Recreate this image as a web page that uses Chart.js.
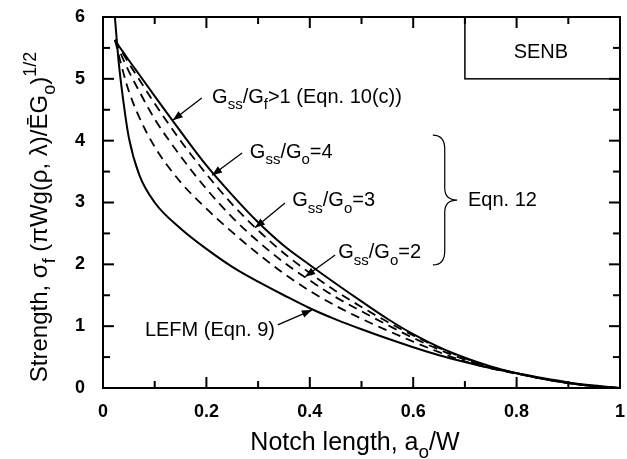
<!DOCTYPE html>
<html><head><meta charset="utf-8">
<script src="https://cdn.jsdelivr.net/npm/chart.js@4"></script>
<style>html,body{margin:0;padding:0;background:#fff}#wrap{width:627px;height:459px}</style>
</head><body><div id="wrap"><canvas id="c"></canvas></div>
<script>
// ---- data ----
const notchLength = [0.023,0.03,0.04,0.05,0.07,0.1,0.15,0.2,0.25,0.3,0.35,0.4,0.45,0.5,0.55,0.6,0.65,0.7,0.75,0.8,0.85,0.9,0.95,1.0];
const strengthGfGt1 = [5.63,5.54,5.42,5.30,5.07,4.72,4.15,3.60,3.12,2.68,2.30,1.99,1.69,1.40,1.12,0.87,0.66,0.49,0.35,0.24,0.15,0.08,0.03,0];
const strengthGo4   = [5.63,5.53,5.39,5.25,4.99,4.60,4.00,3.46,2.97,2.55,2.18,1.86,1.57,1.31,1.07,0.85,0.65,0.48,0.34,0.24,0.15,0.08,0.03,0];
const strengthGo3   = [5.63,5.49,5.30,5.12,4.80,4.35,3.75,3.22,2.76,2.37,2.03,1.74,1.47,1.24,1.02,0.81,0.62,0.46,0.33,0.24,0.15,0.08,0.03,0];
const strengthGo2   = [5.63,5.40,5.08,4.80,4.38,3.90,3.33,2.90,2.52,2.17,1.85,1.57,1.33,1.12,0.93,0.75,0.58,0.43,0.32,0.23,0.15,0.08,0.03,0];
const strengthLEFM  = [6.00,5.30,4.60,4.05,3.45,3.00,2.58,2.25,1.96,1.72,1.50,1.29,1.11,0.95,0.80,0.66,0.53,0.42,0.32,0.24,0.16,0.09,0.04,0];
const xTicks = [0,0.2,0.4,0.6,0.8,1];
const yTicks = [0,1,2,3,4,5,6];
const xMinorTicks = [0,0.1,0.2,0.3,0.4,0.5,0.6,0.7,0.8,0.9,1];
const yMinorTicks = [0,0.5,1,1.5,2,2.5,3,3.5,4,4.5,5,5.5,6];

const pts = ys => notchLength.map((x,i)=>({x, y: ys[i]}));
const FONT = '"Liberation Sans", Arial, sans-serif';
const SUBR = 0.74;

function rich(ctx, parts, x, y, size) {
  let cx = x;
  for (const [t, m] of parts) {
    const s = m === 'n' ? size : Math.round(size*SUBR);
    ctx.font = s + 'px ' + FONT;
    const dy = m === 'sub' ? size*0.33 : (m === 'sup' ? -size*0.45 : 0);
    ctx.fillText(t, cx, y + dy);
    cx += ctx.measureText(t).width;
  }
  return cx - x;
}
function richWidth(ctx, parts, size) {
  let w = 0;
  for (const [t, m] of parts) {
    const s = m === 'n' ? size : Math.round(size*SUBR);
    ctx.font = s + 'px ' + FONT;
    w += ctx.measureText(t).width;
  }
  return w;
}
function arrow(ctx, x1, y1, x2, y2) {
  ctx.beginPath(); ctx.moveTo(x1,y1); ctx.lineTo(x2,y2); ctx.lineWidth = 1.3; ctx.stroke();
  const a = Math.atan2(y2-y1, x2-x1), L = 10, W = 3.8;
  ctx.beginPath();
  ctx.moveTo(x2,y2);
  ctx.lineTo(x2 - L*Math.cos(a) + W*Math.sin(a), y2 - L*Math.sin(a) - W*Math.cos(a));
  ctx.lineTo(x2 - L*Math.cos(a) - W*Math.sin(a), y2 - L*Math.sin(a) + W*Math.cos(a));
  ctx.closePath(); ctx.fill();
}

const decor = {
  id: 'decor',
  afterDraw(chart) {
    const ctx = chart.ctx, xs = chart.scales.x, ys = chart.scales.y, a = chart.chartArea;
    const X = v => xs.getPixelForValue(v), Y = v => ys.getPixelForValue(v);
    ctx.save();
    ctx.setLineDash([]);
    ctx.strokeStyle = '#000'; ctx.fillStyle = '#000';
    // frame
    ctx.lineWidth = 2;
    ctx.strokeRect(a.left, a.top, a.right - a.left, a.bottom - a.top);
    // inward ticks (major & minor), mirrored on top and right
    xMinorTicks.forEach((v, i) => {
      const len = i % 2 === 0 ? 11 : 7, px = X(v);
      ctx.fillRect(px - 1, a.bottom - len, 2, len);
      ctx.fillRect(px - 1, a.top, 2, len);
    });
    yMinorTicks.forEach((v, i) => {
      const len = i % 2 === 0 ? 11 : 7, py = Y(v);
      ctx.fillRect(a.left, py - 1, len, 2);
      ctx.fillRect(a.right - len, py - 1, len, 2);
    });
    // SENB box
    ctx.lineWidth = 1.5;
    ctx.strokeRect(X(0.70), Y(6), X(1) - X(0.70), Y(5) - Y(6));
    ctx.textBaseline = 'middle';
    ctx.font = '20px ' + FONT; ctx.textAlign = 'center';
    ctx.fillText('SENB', X(0.847), Y(5.42));
    ctx.textAlign = 'left'; ctx.textBaseline = 'alphabetic';
    // labels
    const sz = 20, off = 6;
    rich(ctx, [['G','n'],['ss','sub'],['/G','n'],['f','sub'],['>1 (Eqn. 10(c))','n']], X(0.211), Y(4.71)+off, sz);
    rich(ctx, [['G','n'],['ss','sub'],['/G','n'],['o','sub'],['=4','n']], X(0.284), Y(3.82)+off, sz);
    rich(ctx, [['G','n'],['ss','sub'],['/G','n'],['o','sub'],['=3','n']], X(0.366), Y(3.04)+off, sz);
    rich(ctx, [['G','n'],['ss','sub'],['/G','n'],['o','sub'],['=2','n']], X(0.455), Y(2.20)+off, sz);
    rich(ctx, [['Eqn. 12','n']], X(0.706), Y(3.04)+off, sz);
    rich(ctx, [['LEFM (Eqn. 9)','n']], X(0.081), Y(0.94)+off, sz);
    // arrows
    arrow(ctx, X(0.191), Y(4.69), X(0.135), Y(4.33));
    arrow(ctx, X(0.269), Y(3.80), X(0.211), Y(3.44));
    arrow(ctx, X(0.352), Y(2.99), X(0.294), Y(2.59));
    arrow(ctx, X(0.449), Y(2.15), X(0.391), Y(1.80));
    arrow(ctx, X(0.338), Y(1.02), X(0.404), Y(1.26));
    // brace
    const bx0 = X(0.638), bx1 = X(0.661), bx2 = X(0.685);
    const bt = Y(4.09), bm = Y(3.04), bb = Y(1.99);
    ctx.lineWidth = 1.2;
    ctx.beginPath();
    ctx.moveTo(bx0, bt);
    ctx.quadraticCurveTo(bx1, bt, bx1, bt + 14);
    ctx.lineTo(bx1, bm - 12);
    ctx.quadraticCurveTo(bx1, bm, bx2, bm);
    ctx.quadraticCurveTo(bx1, bm, bx1, bm + 12);
    ctx.lineTo(bx1, bb - 14);
    ctx.quadraticCurveTo(bx1, bb, bx0, bb);
    ctx.stroke();
    // x title
    const xt = [['Notch length, a','n'],['o','sub'],['/W','n']];
    const xsz = 25;
    const xw = richWidth(ctx, xt, xsz);
    rich(ctx, xt, 355 - xw/2, 450, xsz);
    // y title
    const yt = [['Strength, σ','n'],['f','sub'],[' (πWg(ρ, λ)/ĒG','n'],['o','sub'],[')','n'],['1/2','sup']];
    const ysz = 24;
    const yw = richWidth(ctx, yt, ysz);
    ctx.translate(47, 217);
    ctx.rotate(-Math.PI/2);
    rich(ctx, yt, -yw/2, 0, ysz);
    ctx.restore();
  }
};

const solid = {borderColor:'#000', borderWidth:2, pointRadius:0, fill:false, cubicInterpolationMode:'monotone'};
const dashed = Object.assign({}, solid, {borderWidth:1.8, borderDash:[9,6]});

new Chart(document.getElementById('c'), {
  type: 'line',
  data: { datasets: [
    Object.assign({label:'Gss/Gf>1 (Eqn. 10(c))', data: pts(strengthGfGt1)}, solid),
    Object.assign({label:'Gss/Go=4', data: pts(strengthGo4)}, dashed),
    Object.assign({label:'Gss/Go=3', data: pts(strengthGo3)}, dashed),
    Object.assign({label:'Gss/Go=2', data: pts(strengthGo2)}, dashed),
    Object.assign({label:'LEFM (Eqn. 9)', data: pts(strengthLEFM)}, solid)
  ]},
  options: {
    responsive: true, maintainAspectRatio: false, animation: false,
    layout: { padding: { left: 0, right: 7, top: 17, bottom: 0 } },
    plugins: { legend: {display:false}, tooltip: {enabled:false} },
    scales: {
      x: { type:'linear', min:0, max:1,
        afterBuildTicks: s => { s.ticks = xTicks.map(v => ({value:v})); },
        afterFit: s => { s.height = 71; s.paddingLeft = 0; s.paddingRight = 0; },
        grid: {display:false}, border: {display:false},
        ticks: { color:'#000', padding: 5, maxRotation:0, callback: v => String(v),
                 font: {family: FONT, size: 18, weight: 'bold'} } },
      y: { min:0, max:6,
        afterBuildTicks: s => { s.ticks = yTicks.map(v => ({value:v})); },
        afterFit: s => { s.width = 103; s.paddingTop = 0; s.paddingBottom = 0; },
        grid: {display:false}, border: {display:false},
        ticks: { color:'#000', padding: 10, callback: v => String(v),
                 font: {family: FONT, size: 18, weight: 'bold'} } }
    }
  },
  plugins: [decor]
});
</script>
</body></html>
